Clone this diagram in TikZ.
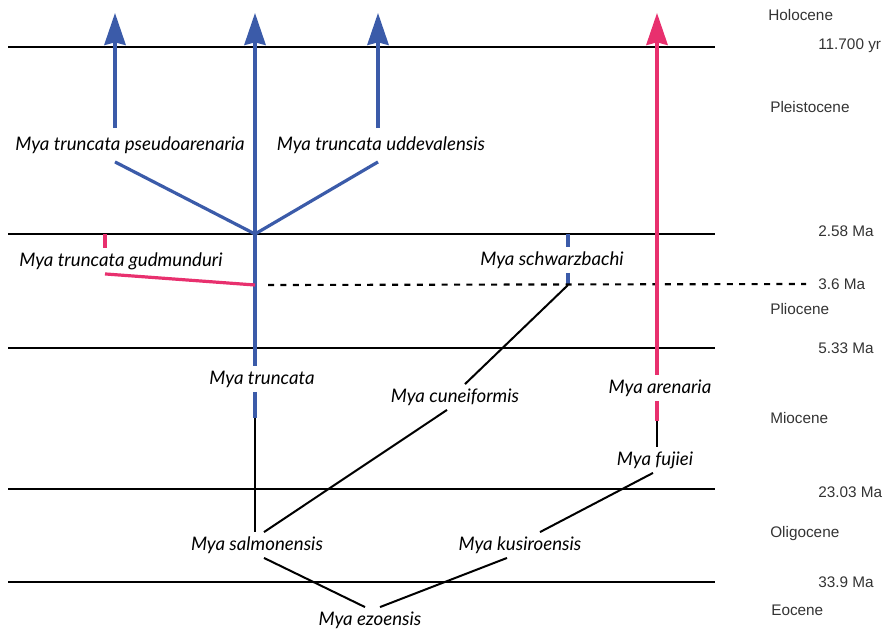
\documentclass[tikz,border=0pt]{standalone}
\usepackage{fontspec}
\setmainfont{Liberation Sans}
\newfontfamily\taxfont{Lato}
\usetikzlibrary{arrows.meta,calc,positioning}

\definecolor{myablue}{HTML}{3B5BA9}
\definecolor{myared}{HTML}{E8306E}
\definecolor{eratext}{HTML}{333333}

\begin{document}
\begin{tikzpicture}[
    x=0.75pt, y=-0.75pt,
    taxon/.style={font=\taxfont\itshape\fontsize{14}{16}\selectfont, inner sep=0pt, minimum height=19pt},
    tall/.style={minimum height=25pt},
    era/.style={font=\fontsize{11.5}{13}\selectfont, text=eratext, anchor=west, inner sep=0pt},
    epoch/.style={line width=1.6pt, black},
    bluebr/.style={line width=2.4pt, myablue},
    redbr/.style={line width=2.4pt, myared},
    blackbr/.style={line width=1.5pt, black},
    tip/.style={-{Stealth[length=24pt, width=16pt, inset=2pt]}}
]
\useasboundingbox (0,0) rectangle (889,629);

% epoch boundaries
\foreach \y in {47,234,348,489,582}
    \draw[epoch] (8,\y) -- (715,\y);

% time scale
\node[era] (holo) at (768,15) {Holocene};
\node[era] (pleis) at (770,107) {Pleistocene};
\node[era] (plio) at (770,309) {Pliocene};
\node[era] (mio) at (770,418) {Miocene};
\node[era] (oligo) at (770,534) {Oligocene};
\node[era] (eo) at (771,610) {Eocene};
\node[era] (yr117) at (818,46) {11.700 yr};
\node[era] (ma258) at (818,231) {2.58 Ma};
\node[era] (ma36) at (818,284) {3.6 Ma};
\node[era] (ma533) at (818,348) {5.33 Ma};
\node[era] (ma2303) at (818,492) {23.03 Ma};
\node[era] (ma339) at (818,582) {33.9 Ma};

% taxa
\node[taxon, tall] (pseudo) at (130,145) {Mya truncata pseudoarenaria};
\node[taxon, tall] (udde) at (381,145) {Mya truncata uddevalensis};
\node[taxon] (gud) at (121,261) {Mya truncata gudmunduri};
\node[taxon] (schw) at (552,260) {Mya schwarzbachi};
\node[taxon] (trunc) at (262,379) {Mya truncata};
\node[taxon] (cune) at (455,397) {Mya cuneiformis};
\node[taxon] (aren) at (660,388) {Mya arenaria};
\node[taxon] (fuji) at (655,460) {Mya fujiei};
\node[taxon] (salm) at (257,545) {Mya salmonensis};
\node[taxon] (kusi) at (520,545) {Mya kusiroensis};
\node[taxon] (ezo) at (370,620) {Mya ezoensis};

\coordinate (hub) at (255,234);
\coordinate (tipA) at (115,13);
\coordinate (tipB) at (255,13);
\coordinate (tipC) at (378,13);
\coordinate (tipD) at (657,13);
\coordinate (gtop) at (105,234);
\coordinate (gjoin) at (255,285);
\coordinate (stop) at (568,234);
\coordinate (sjoin) at (568,285);
\coordinate (tblk) at (255,418);
\coordinate (ablk) at (657,421);

% Mya truncata lineage
\draw[bluebr, tip] (pseudo.north -| tipA) -- (tipA);
\draw[bluebr, tip] (udde.north -| tipC) -- (tipC);
\draw[bluebr, tip] (hub) -- (tipB);
\draw[bluebr] (pseudo.south -| tipA) -- (hub);
\draw[bluebr] (udde.south -| tipC) -- (hub);
\draw[bluebr] (hub) -- (trunc.north -| hub);
\draw[bluebr] (trunc.south -| hub) -- (tblk);
\draw[blackbr] (tblk) -- (salm.north -| hub);
\draw[redbr] (gtop) -- (gud.north -| gtop);
\draw[redbr] (gud.south -| gtop) -- (gjoin);

% Mya schwarzbachi
\draw[bluebr] (stop) -- (schw.north -| stop);
\draw[bluebr] (schw.south -| stop) -- (sjoin);
\draw[blackbr] (sjoin) -- ($(cune.north)+(10,0)$);
\draw[blackbr] ($(cune.south)+(-8,0)$) -- ($(salm.north)+(7,0)$);
\draw[epoch, dashed, dash pattern=on 4.5pt off 4.8pt] ($(gjoin)+(13,0)$) -- ($(ma36.west)+(-12,0)$);

% Mya arenaria
\draw[redbr, tip] (aren.north -| tipD) -- (tipD);
\draw[redbr] (aren.south -| tipD) -- (ablk);
\draw[blackbr] (ablk) -- (fuji.north -| tipD);
\draw[blackbr] ($(fuji.south)+(-2,0)$) -- ($(kusi.north)+(20,0)$);
\draw[blackbr] ($(kusi.south)+(-13,0)$) -- ($(ezo.north)+(10,0)$);
\draw[blackbr] ($(salm.south)+(7,0)$) -- ($(ezo.north)+(-5,0)$);

\end{tikzpicture}
\end{document}
